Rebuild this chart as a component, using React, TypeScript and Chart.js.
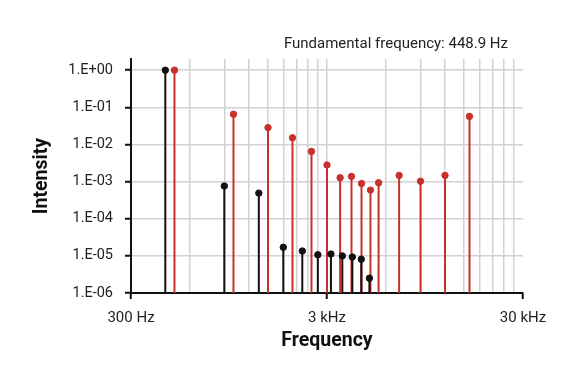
import React, { useEffect, useRef } from "react";
import { Chart, registerables } from "chart.js";

Chart.register(...registerables);

const TITLE_TEXT = "Fundamental frequency: 448.9 Hz";
const X_TITLE = "Frequency";
const Y_TITLE = "Intensity";

// harmonics of the fundamental (Hz) and their intensities
const BLACK_FREQS = [448.9, 897.8, 1346.7, 1795.6, 2244.5, 2693.4, 3142.3, 3591.2, 4040.1, 4489.0, 4937.9];
const BLACK_VALUES = [1.0, 7.6e-4, 4.9e-4, 1.7e-5, 1.35e-5, 1.07e-5, 1.12e-5, 1.0e-5, 9.3e-6, 8.1e-6, 2.5e-6];

const RED_FREQS = [500, 1000, 1500, 2000, 2500, 3000, 3500, 4000, 4500, 5000, 5500, 7000, 9000, 12000, 16000];
const RED_VALUES = [1.0, 0.065, 0.0284, 0.0151, 6.5e-3, 2.8e-3, 1.27e-3, 1.38e-3, 8.9e-4, 5.9e-4, 9.3e-4, 1.47e-3, 1.02e-3, 1.47e-3, 0.057];

const X_MIN = 300;
const X_MAX = 30000;
const Y_MIN = 1e-6;
const Y_MAX = 2;

const X_GRID_TICKS = [300, 600, 900, 1200, 1500, 1800, 2100, 2400, 2700, 3000, 6000, 9000, 12000, 15000, 18000, 21000, 24000, 27000, 30000];
const X_LABEL_VALUES = [300, 3000, 30000];
const X_LABELS = ["300 Hz", "3 kHz", "30 kHz"];

const Y_TICKS = [1e-6, 1e-5, 1e-4, 1e-3, 1e-2, 1e-1, 1];
const Y_LABELS = ["1.E-06", "1.E-05", "1.E-04", "1.E-03", "1.E-02", "1.E-01", "1.E+00"];

const BLACK = "#111111";
const RED = "#c8302c";
const GRID = "#d2d2d2";
const TEXT = "#222222";
const FONT_FAMILY = "Roboto, 'Open Sans', sans-serif";

function stemPoints(freqs: number[], values: number[]) {
  const pts: { x: number; y: number | null }[] = [];
  freqs.forEach((f, i) => {
    pts.push({ x: f, y: Y_MIN });
    pts.push({ x: f, y: values[i] });
    pts.push({ x: f, y: null });
  });
  return pts;
}

function dotPoints(freqs: number[], values: number[]) {
  return freqs.map((f, i) => ({ x: f, y: values[i] }));
}

const titlePlugin = {
  id: "fundTitle",
  afterDraw(chart: any) {
    const { ctx, chartArea } = chart;
    ctx.save();
    ctx.font = `15px ${FONT_FAMILY}`;
    ctx.fillStyle = TEXT;
    ctx.textAlign = "right";
    ctx.textBaseline = "middle";
    ctx.fillText(TITLE_TEXT, chartArea.right - 15, 44);
    ctx.restore();
  },
};

const nearly = (a: number, b: number) => Math.abs(a - b) / b < 1e-6;

export default function App() {
  const ref = useRef<HTMLCanvasElement | null>(null);

  useEffect(() => {
    document.body.style.margin = "0";
    const canvas = ref.current;
    if (!canvas) return;
    const chart = new Chart(canvas, {
      type: "scatter",
      data: {
        datasets: [
          {
            type: "scatter",
            data: dotPoints(BLACK_FREQS, BLACK_VALUES),
            backgroundColor: BLACK,
            borderColor: BLACK,
            pointRadius: 3.2,
            order: 0,
          },
          {
            type: "line",
            data: stemPoints(BLACK_FREQS, BLACK_VALUES),
            borderColor: BLACK,
            borderWidth: 2,
            pointRadius: 0,
            spanGaps: false,
            fill: false,
            order: 1,
          },
          {
            type: "scatter",
            data: dotPoints(RED_FREQS, RED_VALUES),
            backgroundColor: RED,
            borderColor: RED,
            pointRadius: 3.2,
            order: 2,
          },
          {
            type: "line",
            data: stemPoints(RED_FREQS, RED_VALUES),
            borderColor: RED,
            borderWidth: 2,
            pointRadius: 0,
            spanGaps: false,
            fill: false,
            order: 3,
          },
        ] as any,
      },
      options: {
        animation: false,
        responsive: false,
        maintainAspectRatio: false,
        layout: { padding: { top: 59, right: 47, bottom: 0, left: 0 } },
        plugins: {
          legend: { display: false },
          tooltip: { enabled: false },
          title: { display: false },
        },
        scales: {
          x: {
            type: "logarithmic",
            min: X_MIN,
            max: X_MAX,
            afterBuildTicks: (s: any) => {
              s.ticks = X_GRID_TICKS.map((v) => ({ value: v }));
            },
            afterFit: (s: any) => {
              s.height = 87;
            },
            ticks: {
              autoSkip: false,
              maxRotation: 0,
              minRotation: 0,
              padding: 10,
              color: TEXT,
              font: { family: FONT_FAMILY, size: 15 },
              callback: (v: any) => {
                const idx = X_LABEL_VALUES.findIndex((l) => nearly(Number(v), l));
                return idx >= 0 ? X_LABELS[idx] : "";
              },
            },
            grid: {
              color: (c: any) => {
                const v = c.tick ? c.tick.value : 0;
                return nearly(v, X_MAX) ? "rgba(0,0,0,0)" : GRID;
              },
              lineWidth: 1.5,
              tickColor: (c: any) => {
                const v = c.tick ? c.tick.value : 0;
                return X_LABEL_VALUES.some((l) => nearly(v, l)) ? BLACK : "rgba(0,0,0,0)";
              },
              tickWidth: 2,
              tickLength: 6,
            },
            border: { color: BLACK, width: 2 },
            title: {
              display: true,
              text: X_TITLE,
              color: BLACK,
              font: { family: FONT_FAMILY, size: 19.5, weight: "bold" },
              padding: { top: 0, bottom: 27 },
            },
          },
          y: {
            type: "logarithmic",
            min: Y_MIN,
            max: Y_MAX,
            afterBuildTicks: (s: any) => {
              s.ticks = Y_TICKS.map((v) => ({ value: v }));
            },
            afterFit: (s: any) => {
              s.width = 131;
            },
            ticks: {
              autoSkip: false,
              padding: 12,
              color: TEXT,
              font: { family: FONT_FAMILY, size: 14.5 },
              callback: (v: any) => {
                const idx = Y_TICKS.findIndex((t) => nearly(Number(v), t));
                return idx >= 0 ? Y_LABELS[idx] : "";
              },
            },
            grid: {
              color: GRID,
              lineWidth: 1.5,
              tickColor: BLACK,
              tickWidth: 2,
              tickLength: 6,
            },
            border: { color: BLACK, width: 2 },
            title: {
              display: true,
              text: Y_TITLE,
              color: BLACK,
              font: { family: FONT_FAMILY, size: 19.5, weight: "bold" },
              padding: { top: 30, bottom: 0 },
            },
          },
        },
      } as any,
      plugins: [titlePlugin],
    });
    return () => chart.destroy();
  }, []);

  return (
    <div style={{ width: 570, height: 380 }}>
      <canvas ref={ref} width={570} height={380} style={{ display: "block", width: 570, height: 380 }} />
    </div>
  );
}
